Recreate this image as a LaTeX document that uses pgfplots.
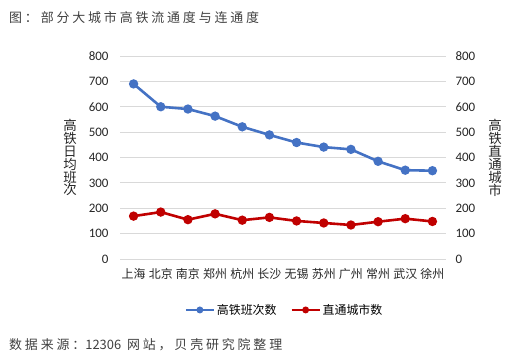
\documentclass[border=0pt]{standalone}
\usepackage{pgfplots}
\pgfplotsset{compat=1.18}
\usepackage{fontspec}
\setmainfont{Carlito}
\newfontfamily\cjk{Noto Sans CJK SC}
\newfontfamily\cjkt[LetterSpace=22]{Noto Sans CJK SC}
\definecolor{cblue}{HTML}{4472C4}
\definecolor{cred}{HTML}{C00000}
\definecolor{gridc}{HTML}{D9D9D9}
\begin{document}
\begin{tikzpicture}[x=1bp,y=1bp]
\useasboundingbox (0,0) rectangle (509,363);
\node[anchor=west,text=black!75,font=\cjkt\fontsize{13}{15}\selectfont,inner sep=0] at (9,345) {图：部分大城市高铁流通度与连通度};
\node[anchor=west,text=black!75,font=\cjkt\fontsize{13}{15}\selectfont,inner sep=0] at (9,18) {数据来源：{\cjk 12306} 网站，贝壳研究院整理};
\begin{axis}[
  at={(120bp,104bp)}, anchor=south west, scale only axis,
  width=326bp, height=203bp,
  xmin=-0.5, xmax=11.5, ymin=0, ymax=800,
  ytick={0,100,...,800}, xtick={0,...,11},
  xticklabels={上海,北京,南京,郑州,杭州,长沙,无锡,苏州,广州,常州,武汉,徐州},
  x tick label style={font=\cjk\fontsize{12}{14}\selectfont, text=black!85, yshift=-6bp},
  y tick label style={font=\fontsize{13}{15}\selectfont, text=black!85, xshift=-8bp},
  /pgf/number format/assume math mode=true,
  axis line style={draw=none},
  major tick length=0,
  ymajorgrids, grid style={gridc, line width=0.9bp},
  clip=false,
  legend columns=2,
  legend style={at={(0.505,-0.251)}, anchor=center, draw=none, fill=none,
    font=\cjk\fontsize{12}{14}\selectfont, inner sep=0pt,
    /tikz/every even column/.append style={column sep=12bp}},
  legend image code/.code={\draw[line width=2bp, mark size=2.4bp, mark repeat=2,mark phase=2] plot coordinates {(0bp,0bp) (14bp,0bp) (28bp,0bp)};},
]
\addplot[cblue, line width=2.6bp, mark=*, mark size=3.3bp] coordinates {
(0,690) (1,600) (2,591) (3,563) (4,521) (5,489) (6,459) (7,441) (8,432) (9,385) (10,350) (11,348)};
\addlegendentry{高铁班次数}
\addplot[cred, line width=2.6bp, mark=*, mark size=3.3bp] coordinates {
(0,169) (1,185) (2,155) (3,178) (4,153) (5,164) (6,150) (7,142) (8,134) (9,147) (10,159) (11,148)};
\addlegendentry{直通城市数}
\node[font=\cjk\fontsize{13.5}{13}\selectfont, align=center, text=black!85] at (rel axis cs:0,0.5) [xshift=-50bp] {高\\铁\\日\\均\\班\\次};
\node[font=\cjk\fontsize{13.5}{13}\selectfont, align=center, text=black!85] at (rel axis cs:1,0.5) [xshift=49bp] {高\\铁\\直\\通\\城\\市};
\end{axis}
\begin{axis}[
  at={(120bp,104bp)}, anchor=south west, scale only axis,
  width=326bp, height=203bp,
  xmin=-0.5, xmax=11.5, ymin=0, ymax=800,
  ytick={0,100,...,800}, hide x axis,
  axis y line*=right,
  y tick label style={font=\fontsize{13}{15}\selectfont, text=black!85, xshift=6bp},
  /pgf/number format/assume math mode=true,
  axis line style={draw=none},
  major tick length=0,
]
\addplot[draw=none] coordinates {(0,0)};
\end{axis}
\end{tikzpicture}
\end{document}
